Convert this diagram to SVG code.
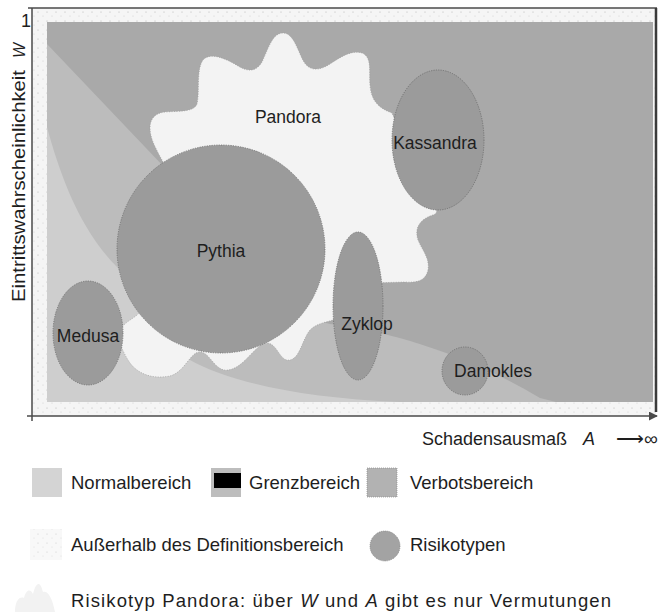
<svg xmlns="http://www.w3.org/2000/svg" width="667" height="614" viewBox="0 0 667 614">
<defs>
<style>
text{font-family:"Liberation Sans",Arial,sans-serif;fill:#1e1e1e}
.lbl{font-size:17.5px}
.leg{font-size:18.5px}
.risk{fill:#9b9b9b;stroke:#6a6a6a;stroke-width:0.8;stroke-dasharray:1.2 1.2}
.axis{stroke:#4a4a4a;stroke-width:1.5;fill:none}
</style>
<pattern id="stip" width="9" height="9" patternUnits="userSpaceOnUse">
<rect width="9" height="9" fill="#f5f5f5"/>
<circle cx="2" cy="3" r="0.6" fill="#b5b5b5"/>
<circle cx="7" cy="7" r="0.5" fill="#c8c8c8"/>
</pattern>
<marker id="arr" viewBox="0 0 10 10" refX="9" refY="5" markerWidth="9" markerHeight="9" markerUnits="userSpaceOnUse" orient="auto">
<path d="M0,0 L10,5 L0,10 Z" fill="#4a4a4a"/>
</marker>
</defs>
<rect width="667" height="614" fill="#ffffff"/>

<g id="regions">
<rect x="32" y="8" width="624" height="408" fill="url(#stip)"/>
<rect id="verbot" x="47" y="22" width="606" height="380" fill="#a9a9a9"/>
<path id="grenz" d="M47,44 L165,168 C230,240 280,310 330,324 C380,330 460,350 540,398 L556,402 L47,402 Z" fill="#bcbcbc"/>
<path id="normal" d="M47,127 C60,175 80,230 117,267 C140,300 162,345 190,360 C230,382 300,398 400,402 L47,402 Z" fill="#cecece"/>
</g>

<g id="pandora">
<path d="M163,162 C158,152 150,140 150,128 C150,118 156,113 165,112 C180,111 194,112 197,104 C200,92 196,70 203,60 C210,52 225,58 238,66 C248,72 256,72 262,62 C268,50 272,33 283,33 C294,33 298,52 304,62 C309,70 318,72 330,64 C342,56 352,50 362,53 C372,57 369,70 370,85 C371,100 378,108 392,113 L432,206 C438,210 438,213 433,215 C420,219 414,228 418,240 C422,250 430,258 428,270 C426,280 418,283 405,282 L370,283 L345,300 L338,318 C330,322 318,322 310,330 C302,340 300,358 290,360 C280,362 278,345 268,343 C255,343 245,368 228,370 C215,372 210,352 200,352 C190,352 185,372 170,376 C150,380 135,372 128,360 C122,350 115,335 122,327 C128,320 135,318 140,312 L150,250 Z" fill="#f3f3f3" stroke="#9a9a9a" stroke-width="0.7" stroke-dasharray="1 1.5"/>
<text class="lbl" x="288" y="123" text-anchor="middle">Pandora</text>
</g>

<g id="pythia">
<circle class="risk" cx="221" cy="249" r="104"/>
<text class="lbl" x="221" y="257" text-anchor="middle">Pythia</text>
</g>
<g id="kassandra">
<ellipse class="risk" cx="438" cy="140" rx="46" ry="70"/>
<text class="lbl" x="435" y="149" text-anchor="middle">Kassandra</text>
</g>
<g id="medusa">
<ellipse class="risk" cx="88" cy="333" rx="35" ry="52"/>
<text class="lbl" x="88" y="342" text-anchor="middle">Medusa</text>
</g>
<g id="zyklop">
<ellipse class="risk" cx="358" cy="306" rx="25" ry="74"/>
<text class="lbl" x="367" y="330" text-anchor="middle">Zyklop</text>
</g>
<g id="damokles">
<ellipse class="risk" cx="465" cy="371" rx="23" ry="24"/>
<text class="lbl" x="493" y="377" text-anchor="middle">Damokles</text>
</g>

<g id="connectors">
<line class="axis" x1="28" y1="8" x2="657" y2="8"/>
<line class="axis" x1="32" y1="8" x2="32" y2="421"/>
<line x1="656" y1="8" x2="656" y2="412" stroke="#3a3a3a" stroke-width="2.5"/>
<line class="axis" x1="27" y1="416" x2="657" y2="416" marker-end="url(#arr)"/>
</g>

<g id="axis-labels">
<text x="26" y="27" text-anchor="middle" font-size="18">1</text>
<text transform="translate(25,58) rotate(-90)" font-size="16" font-style="italic">W</text>
<text transform="translate(25,302) rotate(-90)" font-size="19" textLength="232" lengthAdjust="spacingAndGlyphs">Eintrittswahrscheinlichkeit</text>
<text x="422" y="445" font-size="18">Schadensausmaß</text>
<text x="583" y="445" font-size="18" font-style="italic">A</text>
<text x="616" y="445" font-size="18" font-family="'DejaVu Sans',sans-serif" textLength="42" lengthAdjust="spacingAndGlyphs">⟶∞</text>
</g>

<g id="legend">
<rect x="32" y="468" width="30" height="29" fill="#d4d4d4"/>
<text class="leg" x="71" y="489">Normalbereich</text>
<rect x="211" y="468" width="30" height="29" fill="#bdbdbd"/>
<rect x="214" y="473" width="27" height="15" fill="#000"/>
<text class="leg" x="249" y="489">Grenzbereich</text>
<rect x="367" y="468" width="30" height="29" fill="#b2b2b2" stroke="#8a8a8a" stroke-width="0.7" stroke-dasharray="1 1"/>
<text class="leg" x="410" y="489">Verbotsbereich</text>
<rect x="30" y="529" width="32" height="31" fill="url(#stip)" opacity="0.7"/>
<text class="leg" x="71" y="551">Außerhalb des Definitionsbereich</text>
<circle cx="385" cy="546" r="15" fill="#a3a3a3" stroke="#7a7a7a" stroke-width="0.7" stroke-dasharray="1 1"/>
<text class="leg" x="410" y="551">Risikotypen</text>
<path d="M15,612 C15,600 20,596 24,598 C26,590 30,588 33,594 C36,582 40,580 43,592 C47,590 52,596 55,612 Z" fill="#f2f2f2"/>
<text class="leg" x="71" y="607" textLength="540" lengthAdjust="spacing">Risikotyp Pandora: über <tspan font-style="italic">W</tspan> und <tspan font-style="italic">A</tspan> gibt es nur Vermutungen</text>
</g>
</svg>
